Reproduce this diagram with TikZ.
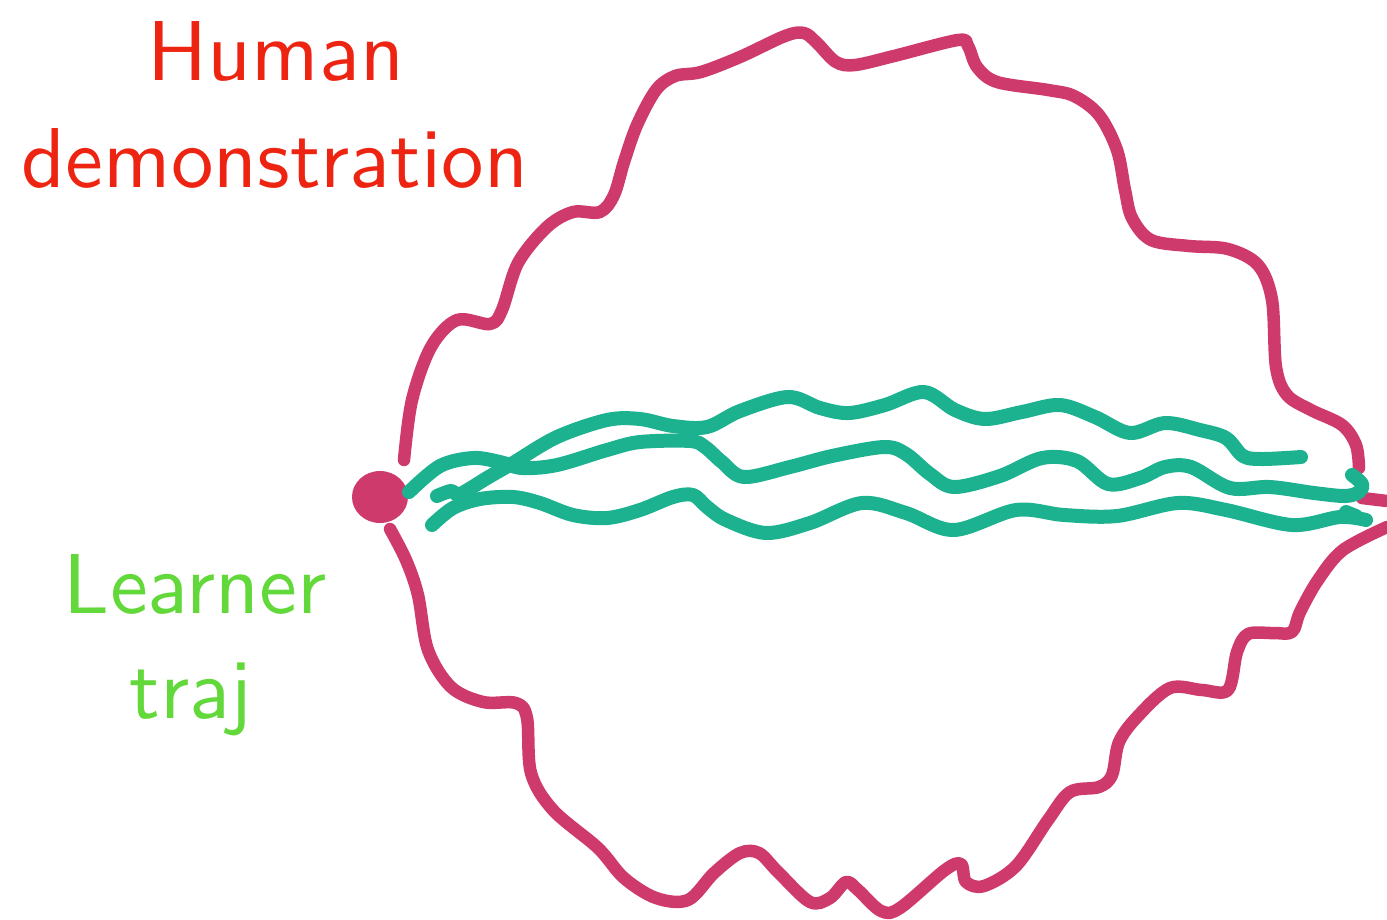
\documentclass[tikz,border=0pt]{standalone}
\usepackage{fontspec}
\usetikzlibrary{shapes.geometric}
\newfontfamily\lmsansten{lmsans10-regular.otf}
\definecolor{demored}{HTML}{EE2412}
\definecolor{learngreen}{HTML}{62D83A}
\definecolor{pathred}{HTML}{CF3A6C}
\definecolor{pathgreen}{HTML}{1CB28F}
\tikzset{
  redline/.style={draw=pathred, line width=12.5pt, line cap=round, line join=round},
  greenline/.style={draw=pathgreen, line width=14pt, line cap=round, line join=round},
  bigtext/.style={font=\lmsansten\fontsize{85}{107}\selectfont, inner sep=0pt, anchor=base}
}
\begin{document}
\begin{tikzpicture}[x=1pt,y=-1pt]
\useasboundingbox (0,0) rectangle (1387,919);
% labels
\node[bigtext, text=demored] (human) at (276,80) {Human};
\node[bigtext, text=demored] (demo) at (275,187) {demonstration};
\node[bigtext, text=learngreen] (learner) at (195,613) {Learner};
\node[bigtext, text=learngreen] (traj) at (191,718) {traj};
% upper demonstration path
\draw[redline] plot[smooth, tension=0.55] coordinates {
 (404,460) (412,400) (431,347) (457,320) (490,324) (502,310) (518,263)
 (547,227) (573,212) (600,212) (614,195) (624,162) (637,125) (656,90)
 (675,76) (701,72) (740,57) (785,36) (804,33) (817,43) (836,62) (855,65)
 (894,56) (958,40) (968,46) (977,67) (997,82) (1048,90) (1074,96)
 (1099,115) (1117,150) (1125,190) (1132,218) (1151,240) (1189,246)
 (1228,249) (1258,265) (1272,300) (1276,367) (1287,395) (1311,410)
 (1342,425) (1356,445) (1359,468)};
\draw[redline] (1362,498) -- (1387,501);
% lower demonstration path
\draw[redline] plot[smooth, tension=0.55] coordinates {
 (390,529) (406,560) (418,595) (428,650) (451,687) (483,702) (516,703)
 (527,718) (531,773) (553,810) (598,848) (624,878) (656,898) (688,900)
 (714,873) (740,853) (759,853) (778,872) (810,902) (830,898) (846,882)
 (858,890) (881,911) (900,908) (945,870) (961,864) (966,882) (984,886)
 (1016,866) (1048,820) (1070,792) (1099,787) (1112,775) (1119,742)
 (1138,716) (1170,688) (1202,690) (1228,690) (1237,652) (1248,634)
 (1273,633) (1292,632) (1300,612) (1318,580) (1343,550) (1387,527)};
% start point
\node[fill=pathred, ellipse, minimum width=56pt, minimum height=52pt, inner sep=0pt] (start) at (380,497) {};
% learner trajectory A (from start, ends in middle)
\draw[greenline] plot[smooth, tension=0.55] coordinates {
 (409,492) (440,466) (473,458) (500,462) (522,468) (557,465) (607,450)
 (640,442) (690,441) (705,447) (722,462) (744,477) (790,467) (832,456)
 (884,447) (906,454) (930,474) (954,487) (1000,476) (1042,458) (1077,461)
 (1108,484) (1140,478) (1165,467) (1191,467) (1230,488) (1270,487)
 (1314,493) (1345,496) (1359,492) (1362,484) (1352,475)};
% learner trajectory B (from small blob, ends on top)
\draw[greenline] plot[smooth, tension=0.55] coordinates {
 (437,496) (451,491) (460,494) (487,478) (513,463) (557,437) (607,420)
 (640,419) (673,426) (707,427) (740,411) (788,397) (820,408) (849,413)
 (885,405) (924,392) (955,410) (985,419) (1022,412) (1060,405) (1095,417)
 (1130,433) (1165,423) (1200,430) (1226,438) (1243,456) (1262,459) (1301,457)};
% learner trajectory C (bottom)
\draw[greenline] plot[smooth, tension=0.55] coordinates {
 (432,525) (453,508) (480,499) (513,497) (540,503) (573,515) (607,518)
 (640,510) (673,497) (693,495) (707,507) (726,520) (766,533) (810,523)
 (862,503) (906,513) (954,530) (1016,510) (1064,515) (1117,516) (1178,503)
 (1226,510) (1292,525) (1340,517) (1366,520)};
\draw[greenline] (1346,512) -- (1356,516);
\end{tikzpicture}
\end{document}
